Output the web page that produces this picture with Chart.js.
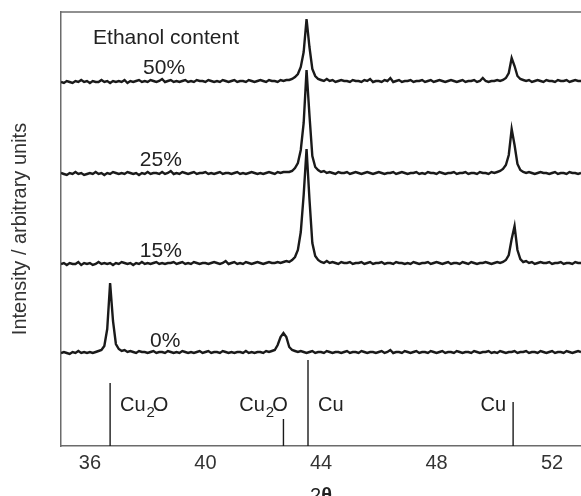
<!DOCTYPE html>
<html>
<head>
<meta charset="utf-8">
<script src="https://cdn.jsdelivr.net/npm/chart.js@4/dist/chart.umd.min.js"></script>
<style>
  html, body { margin: 0; padding: 0; background: #fff; }
  canvas { display: block; }
</style>
</head>
<body>
<canvas id="xrd" width="581" height="496"></canvas>
<script>
// 2θ scan: start angle and step (deg), one intensity value per step
const twoThetaStart = 35.0;
const twoThetaStep = 0.1;

const xTicks = [36, 40, 44, 48, 52];

const sampleLabels = ["50%", "25%", "15%", "0%"];
// vertical offset of each pattern (stacked plot)
const sampleOffsets = [363, 271, 181, 92];

// one row = one degree (35.0 ... 35.9, 36.0 ... 36.9, ...), last value = 53.0
const counts50 = [
  1, 0, 2, 1, 0, 2, 1, 3, 1, 2,
  0, 2, 1, 1, 3, 1, 2, 0, 2, 1,
  2, 1, 3, 0, 2, 1, 2, 3, 1, 2,
  1, 3, 2, 1, 2, 4, 1, 2, 3, 1,
  2, 1, 2, 3, 1, 2, 1, 3, 2, 2,
  1, 3, 2, 1, 2, 1, 3, 2, 1, 2,
  3, 1, 2, 2, 1, 3, 2, 1, 2, 3,
  2, 1, 3, 2, 2, 1, 3, 2, 3, 3,
  4, 6, 9, 16, 31, 64, 36, 14, 7, 4,
  3, 2, 4, 2, 3, 1, 2, 3, 2, 2,
  1, 3, 2, 2, 1, 3, 2, 4, 1, 2,
  2, 1, 3, 2, 5, 1, 2, 3, 1, 2,
  2, 3, 1, 2, 2, 3, 1, 2, 3, 1,
  2, 3, 2, 1, 2, 3, 2, 1, 2, 3,
  1, 2, 2, 3, 1, 2, 5, 2, 1, 2,
  2, 3, 2, 3, 5, 10, 25, 17, 7, 4,
  3, 2, 3, 1, 2, 3, 2, 1, 3, 2,
  2, 1, 3, 2, 2, 3, 1, 2, 3, 2,
  2
];

const counts25 = [
  2, 1, 0, 2, 1, 3, 1, 2, 0, 1,
  2, 1, 3, 1, 2, 0, 2, 1, 3, 2,
  1, 2, 1, 3, 2, 1, 2, 0, 2, 1,
  3, 1, 2, 2, 1, 3, 1, 2, 4, 1,
  2, 1, 3, 2, 1, 2, 3, 1, 2, 2,
  3, 1, 2, 1, 2, 3, 1, 2, 2, 1,
  2, 3, 1, 2, 1, 2, 3, 2, 1, 2,
  1, 2, 3, 2, 1, 3, 2, 3, 3, 3,
  4, 7, 12, 25, 52, 105, 60, 19, 8, 5,
  3, 4, 2, 3, 2, 1, 3, 2, 2, 3,
  1, 2, 3, 2, 1, 2, 3, 2, 1, 2,
  3, 2, 1, 2, 2, 3, 1, 2, 3, 2,
  1, 2, 2, 3, 1, 2, 1, 3, 2, 2,
  1, 3, 2, 1, 2, 2, 3, 1, 2, 2,
  3, 1, 2, 2, 1, 3, 2, 2, 1, 3,
  2, 3, 4, 6, 10, 20, 46, 30, 11, 5,
  3, 2, 3, 2, 1, 2, 3, 2, 2, 1,
  2, 3, 1, 2, 2, 1, 3, 2, 2, 1,
  2
];

const counts15 = [
  1, 2, 0, 2, 1, 1, 3, 0, 2, 1,
  2, 0, 1, 3, 1, 2, 1, 2, 0, 2,
  1, 3, 2, 1, 2, 0, 2, 1, 3, 1,
  2, 1, 2, 3, 1, 2, 1, 2, 2, 3,
  1, 2, 3, 1, 2, 1, 3, 2, 1, 2,
  2, 1, 2, 3, 2, 1, 2, 4, 1, 2,
  3, 1, 2, 1, 3, 2, 1, 2, 3, 2,
  1, 2, 3, 2, 2, 3, 2, 3, 4, 3,
  5, 8, 15, 33, 70, 116, 66, 22, 9, 5,
  3, 2, 4, 2, 3, 2, 1, 3, 2, 2,
  3, 1, 2, 2, 3, 1, 2, 3, 1, 2,
  2, 3, 1, 2, 2, 1, 3, 2, 2, 1,
  2, 1, 3, 2, 1, 2, 2, 3, 1, 2,
  3, 2, 1, 2, 3, 1, 2, 2, 1, 3,
  2, 1, 3, 2, 1, 2, 2, 3, 2, 1,
  2, 3, 2, 3, 5, 10, 26, 39, 15, 6,
  3, 4, 2, 3, 1, 2, 3, 2, 2, 3,
  1, 2, 2, 3, 1, 2, 2, 1, 3, 2,
  2
];

const counts0 = [
  1, 2, 1, 0, 2, 1, 3, 1, 2, 1,
  2, 1, 2, 3, 4, 8, 25, 71, 33, 10,
  5, 3, 4, 2, 3, 2, 1, 3, 2, 2,
  1, 2, 3, 1, 2, 2, 1, 3, 2, 1,
  2, 1, 3, 2, 1, 2, 1, 2, 3, 1,
  2, 3, 1, 2, 2, 1, 3, 2, 1, 2,
  1, 2, 2, 1, 3, 1, 2, 1, 2, 2,
  1, 3, 2, 3, 4, 9, 17, 21, 17, 7,
  4, 3, 2, 3, 2, 1, 2, 3, 1, 2,
  2, 1, 3, 2, 1, 2, 2, 1, 2, 3,
  1, 2, 2, 1, 3, 2, 1, 2, 2, 1,
  2, 3, 1, 2, 4, 1, 2, 2, 1, 3,
  2, 1, 2, 3, 1, 2, 2, 1, 3, 2,
  1, 2, 3, 1, 2, 2, 1, 3, 2, 1,
  2, 2, 1, 3, 2, 1, 2, 2, 3, 1,
  2, 1, 3, 2, 1, 2, 2, 3, 1, 2,
  2, 3, 1, 2, 2, 1, 3, 2, 1, 2,
  3, 1, 2, 2, 1, 3, 2, 1, 2, 3,
  2
];

const sampleCounts = [counts50, counts25, counts15, counts0];

// reference reflections (stick pattern under the scans)
const refPhases = ["Cu2O", "Cu2O", "Cu", "Cu"];
const refAngles = [36.7, 42.7, 43.55, 50.65];
const refHeights = [63, 27, 86, 44];

const INK = "#1a1a1a";
const FONT = "'Liberation Sans', Arial, Helvetica, sans-serif";

const datasets = [];
sampleCounts.forEach((counts, k) => {
  datasets.push({
    label: sampleLabels[k],
    data: counts.map((c, i) => ({ x: twoThetaStart + i * twoThetaStep, y: sampleOffsets[k] + c })),
    borderColor: INK,
    borderWidth: 2.4,
    borderJoinStyle: "miter",
    pointRadius: 0,
    fill: false,
  });
});
refAngles.forEach((a, k) => {
  datasets.push({
    label: refPhases[k],
    data: [{ x: a, y: 0 }, { x: a, y: refHeights[k] }],
    borderColor: INK,
    borderWidth: 1.4,
    pointRadius: 0,
    fill: false,
  });
});

// text placed in data coordinates: [text, 2θ of left edge, baseline value]
const notes = [
  ["Ethanol content", 36.11, 402],
  ["50%", 37.84, 372],
  ["25%", 37.73, 280],
  ["15%", 37.73, 189],
  ["0%", 38.08, 99],
];
// phase labels: left edge in 2θ, all on the same baseline
const phaseLabelX = [37.04, 41.17, 43.9, 49.52];
const phaseLabelY = 35;

function drawFormula(ctx, text, x, y) {
  // "Cu2O" -> Cu, subscript 2, O
  const m = text.match(/^([A-Za-z]+)(\d)?([A-Za-z]*)$/);
  ctx.font = "20px " + FONT;
  ctx.fillText(m[1], x, y);
  x += ctx.measureText(m[1]).width;
  if (m[2]) {
    ctx.font = "15px " + FONT;
    ctx.fillText(m[2], x + 1, y + 6);
    x += ctx.measureText(m[2]).width - 1;
    ctx.font = "20px " + FONT;
    ctx.fillText(m[3], x, y);
  }
}

const annotations = {
  id: "annotations",
  afterDatasetsDraw(chart) {
    const { ctx, chartArea, scales } = chart;
    const { x, y } = scales;
    ctx.save();
    // frame: top edge (left and bottom come from the axes)
    ctx.strokeStyle = "#6b6b6b";
    ctx.lineWidth = 1.5;
    ctx.beginPath();
    ctx.moveTo(chartArea.left, chartArea.top);
    ctx.lineTo(chartArea.right, chartArea.top);
    ctx.stroke();

    ctx.fillStyle = "#222";
    ctx.textBaseline = "alphabetic";
    ctx.textAlign = "left";
    ctx.font = "21px " + FONT;
    notes.forEach(([t, tx, ty]) => ctx.fillText(t, x.getPixelForValue(tx), y.getPixelForValue(ty)));

    refPhases.forEach((p, k) => {
      drawFormula(ctx, p, x.getPixelForValue(phaseLabelX[k]), y.getPixelForValue(phaseLabelY));
    });

    // x-axis title: 2θ
    ctx.fillStyle = "#222";
    const cx = (chartArea.left + chartArea.right) / 2;
    ctx.font = "20px " + FONT;
    const w2 = ctx.measureText("2").width;
    ctx.font = "bold 20px " + FONT;
    const wt = ctx.measureText("θ").width;
    const sx = cx - (w2 + wt) / 2;
    ctx.font = "20px " + FONT;
    ctx.fillText("2", sx, 502);
    ctx.font = "bold 20px " + FONT;
    ctx.fillText("θ", sx + w2, 502);
    ctx.restore();
  },
};

new Chart(document.getElementById("xrd"), {
  type: "line",
  data: { datasets },
  options: {
    responsive: false,
    animation: false,
    parsing: false,
    layout: { padding: { top: 12, right: 0, bottom: 0, left: 0 } },
    plugins: { legend: { display: false }, tooltip: { enabled: false } },
    elements: { line: { tension: 0 } },
    scales: {
      x: {
        type: "linear",
        min: 35,
        max: 53,
        afterBuildTicks: (s) => { s.ticks = xTicks.map((v) => ({ value: v })); },
        afterFit: (s) => { s.height = 50; },
        grid: { display: false, drawTicks: false },
        border: { display: true, color: "#6b6b6b", width: 1.5 },
        ticks: { color: "#333", font: { family: FONT, size: 20 }, padding: 5, maxRotation: 0 },
      },
      y: {
        type: "linear",
        min: 0,
        max: 434,
        afterFit: (s) => { s.width = 61; },
        grid: { display: false, drawTicks: false },
        border: { display: true, color: "#6b6b6b", width: 1.5 },
        ticks: { display: false },
        title: {
          display: true,
          text: "Intensity / arbitrary units",
          color: "#333",
          font: { family: FONT, size: 20 },
          padding: { top: 8, bottom: 0 },
        },
      },
    },
  },
  plugins: [annotations],
});
</script>
</body>
</html>
